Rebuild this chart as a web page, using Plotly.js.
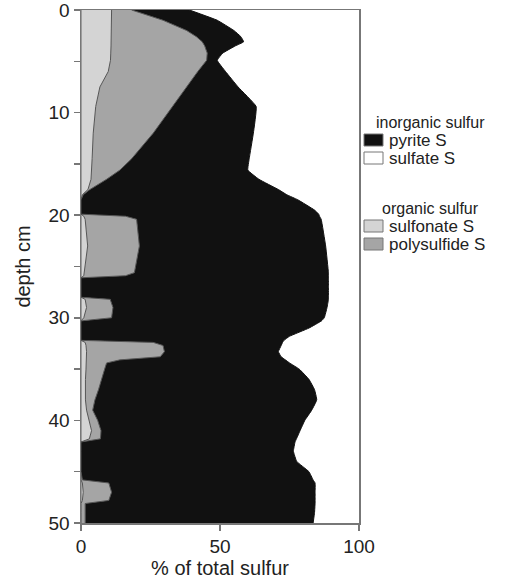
<!DOCTYPE html>
<html>
<head>
<meta charset="utf-8">
<script src="https://cdn.plot.ly/plotly-3.0.1.min.js"></script>
<style>html,body{margin:0;padding:0;background:#fff}#chart{width:512px;height:579px}</style>
</head>
<body>
<div id="chart"></div>
<script>
// depth (cm) of each sampled profile row
const depth = [0, 1, 2, 2.6, 3.1, 3.5, 4.2, 4.9, 6, 7.5,
  9.4, 12, 14.5, 15.6, 16.5, 17.5, 18, 18.5, 19.5, 19.9,
  20.1, 20.4, 23, 25.6, 25.9, 26.1, 27, 28, 28.2, 29,
  30, 30.3, 31, 31.8, 32.2, 32.4, 32.7, 33.3, 33.8, 34.1,
  34.4, 35, 36, 37, 38, 39, 40, 41, 41.8, 42.1,
  43, 44, 45, 45.8, 46.1, 47, 47.8, 48.1, 49, 50];

// % of total sulfur for each fraction (stacked left to right)
const sulfateS = [0, 0, 0, 0, 0, 0, 0, 0, 0, 0,
  0, 0, 0, 0, 0, 0, 0, 0, 0, 0,
  0, 0, 0, 0, 0, 0, 0, 0, 0, 0,
  0, 0, 0, 0, 0, 0, 0, 0, 0, 0,
  0, 0, 0, 0, 0, 0, 0, 0, 0, 0,
  0, 0, 0, 0, 0, 0, 0, 0, 0, 0];
const sulfonateS = [11, 11, 11, 10.9, 10.9, 10.8, 10.7, 10.6, 9.8, 6.8,
  5.3, 4.4, 4, 3.8, 3.6, 2.5, 0.5, 0, 0, 0,
  1, 1.5, 2.4, 1.2, 1, 0, 0, 0, 1.5, 2,
  1, 0, 0, 0, 0, 1.5, 1.8, 2, 2, 2,
  2, 1.8, 1.6, 1.5, 1.6, 2, 3, 3.8, 3, 0,
  0, 0, 0, 0, 0.5, 0.8, 0.5, 0, 0, 0];
const polysulfideS = [7.2, 18.5, 27, 30.6, 32.7, 33.7, 34.7, 34.6, 32.2, 31.2,
  27.7, 21.6, 14.2, 10.2, 5.6, 0.7, 0.3, 0, 0, 0,
  15, 18.5, 18.6, 18, 15, 0, 0, 0, 9, 9.5,
  10, 0, 0, 0, 0, 24.5, 27.7, 28, 26.5, 12,
  7.2, 6.7, 5.9, 4.8, 3.4, 2.2, 3, 3.4, 4, 0,
  0, 0, 0, 0.5, 9.5, 10.2, 9.5, 1.5, 1.5, 1.5];
const pyriteS = [20.8, 19.5, 17, 16, 14.9, 11, 5.6, 3.8, 10, 18.5,
  30, 36, 42.3, 46, 54.8, 67.8, 73.2, 78, 84, 85.5,
  69.8, 66.4, 67, 69.8, 73, 89, 89, 89, 78.5, 77,
  76.5, 86.5, 82, 75, 73, 46.5, 42.5, 41, 43.5, 59.5,
  65.8, 70, 74.5, 77.7, 79.8, 78.8, 74.5, 71.6, 70.5, 77,
  76.4, 77.6, 82, 83, 74.2, 73.2, 74.2, 82.7, 82.5, 82];

const xTicks = [0, 50, 100];

const names = ['sulfate S', 'sulfonate S', 'polysulfide S', 'pyrite S'];
const colors = ['#ffffff', '#d4d4d4', '#a5a5a5', '#111111'];
const series = [sulfateS, sulfonateS, polysulfideS, pyriteS];
const lineColors = ['#666666', '#555555', '#555555', '#111111'];

// legend content: group titles and entries (index into names/colors)
const legendGroups = [
  {title: 'inorganic sulfur', items: [3, 0]},
  {title: 'organic sulfur', items: [1, 2]}
];

const traces = series.map((vals, i) => ({
  type: 'scatter',
  name: names[i],
  x: vals,
  y: depth,
  stackgroup: 'one',
  orientation: 'h',
  mode: 'lines',
  line: {color: lineColors[i], width: 1, shape: i === 3 ? 'spline' : 'linear', smoothing: 0.3},
  fillcolor: colors[i],
  showlegend: false,
  hoverinfo: 'skip'
}));

// plot area in pixels, used to place the hand-built legend
const M = {l: 81, r: 153, t: 10, b: 56};
const W = 512, H = 579;
const pw = W - M.l - M.r, ph = H - M.t - M.b;
const px = v => (v - M.l) / pw;
const py = v => 1 - (v - M.t) / ph;

const shapes = [];
const annotations = [];
const groupTop = [122, 208];
legendGroups.forEach((g, gi) => {
  const top = groupTop[gi];
  annotations.push({
    xref: 'paper', yref: 'paper', x: px(430), y: py(top),
    xanchor: 'center', yanchor: 'middle', showarrow: false,
    text: g.title, font: {size: 16, color: '#222'}
  });
  g.items.forEach((idx, k) => {
    const cy = top + 18 + k * 18;
    shapes.push({
      type: 'rect', xref: 'paper', yref: 'paper',
      x0: px(364), x1: px(383), y0: py(cy - 6), y1: py(cy + 6),
      fillcolor: colors[idx], line: {color: '#777', width: 1}
    });
    annotations.push({
      xref: 'paper', yref: 'paper', x: px(387), y: py(cy),
      xanchor: 'left', yanchor: 'middle', showarrow: false,
      text: names[idx], font: {size: 17, color: '#222'}
    });
  });
});

const layout = {
  width: W,
  height: H,
  margin: M,
  paper_bgcolor: '#ffffff',
  plot_bgcolor: '#ffffff',
  font: {family: 'Liberation Sans, Arial, sans-serif', color: '#222222'},
  showlegend: false,
  shapes: shapes,
  annotations: annotations,
  xaxis: {
    range: [0, 100],
    tickvals: xTicks,
    ticks: 'outside', ticklen: 6, tickcolor: '#777', tickwidth: 1.5,
    showline: true, mirror: true, linecolor: '#777', linewidth: 1.5,
    showgrid: false, zeroline: false,
    ticklabeloverflow: 'allow',
    tickfont: {size: 19},
    title: {text: '% of total sulfur', font: {size: 20}, standoff: 2}
  },
  yaxis: {
    range: [50, 0],
    tick0: 0, dtick: 10,
    ticks: 'outside', ticklen: 6, tickcolor: '#777', tickwidth: 1.5,
    minor: {dtick: 5, ticks: 'outside', ticklen: 6, tickcolor: '#777', tickwidth: 1.5},
    showline: true, mirror: true, linecolor: '#777', linewidth: 1.5,
    showgrid: false, zeroline: false,
    ticklabeloverflow: 'allow',
    tickfont: {size: 19},
    title: {text: 'depth cm', font: {size: 20}, standoff: 12}
  }
};

Plotly.newPlot('chart', traces, layout, {displayModeBar: false, staticPlot: true});
</script>
</body>
</html>
